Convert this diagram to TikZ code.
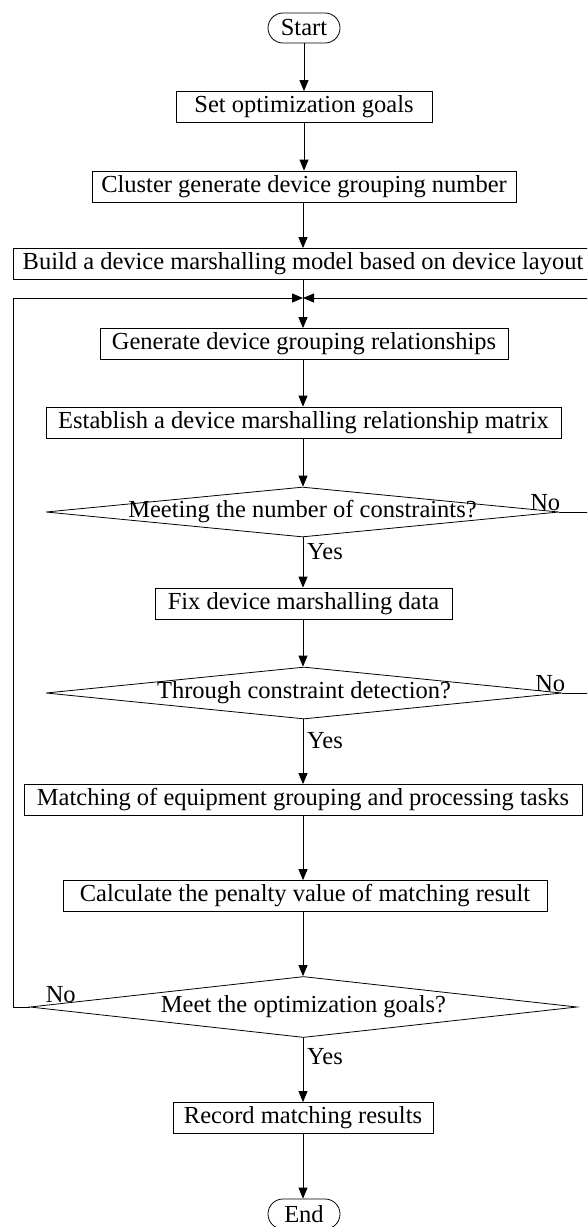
\documentclass[tikz,border=0pt]{standalone}
\usepackage{fontspec}
\setmainfont{Liberation Serif}
\usetikzlibrary{shapes.geometric,arrows.meta}

\tikzset{
	txt/.style = {font=\fontsize{24.5}{28}\selectfont},
	proc/.style = {txt, draw, rectangle, line width=0.8pt, inner xsep=6pt, minimum height=31pt},
	term/.style = {txt, draw, rectangle, line width=0.8pt, rounded corners=15pt, minimum width=72pt, minimum height=30pt},
	decision/.style = {draw, diamond, line width=0.8pt, inner sep=0pt},
	arr/.style = {line width=0.8pt, -{Triangle[length=11pt, width=9pt]}},
	line/.style = {line width=0.8pt},
	lbl/.style = {txt, inner sep=1pt}
}

\begin{document}
\begin{tikzpicture}[x = 1pt, y = -1pt]
	
		\useasboundingbox (0, 0) rectangle (587, 1227);
		\clip (0, 0) rectangle (587, 1227);
		
		\node[term] (start) at (304, 28) {Start};
		\node[proc, minimum width=256pt] (goals) at (304, 107) {Set optimization goals};
		\node[proc, minimum width=424pt] (cluster) at (304, 186.5) {Cluster generate device grouping number};
		\node[proc, minimum width=580pt] (build) at (303, 264) {Build a device marshalling model based on device layout};
		\node[proc, minimum width=408pt] (group) at (304, 344) {Generate device grouping relationships};
		\node[proc, minimum width=515pt] (matrix) at (303.5, 422.5) {Establish a device marshalling relationship matrix};
		\node[decision, minimum width=513pt, minimum height=50pt,
			label={[txt]center:Meeting the number of constraints?}] (num) at (302.5, 512) {};
		\node[proc, minimum width=297pt] (fix) at (303.5, 603.5) {Fix device marshalling data};
		\node[decision, minimum width=516pt, minimum height=52pt,
			label={[txt]center:Through constraint detection?}] (detect) at (304, 693) {};
		\node[proc, minimum width=558pt] (match) at (303, 800) {Matching of equipment grouping and processing tasks};
		\node[proc, minimum width=484pt] (penalty) at (305, 896) {Calculate the penalty value of matching result};
		\node[decision, minimum width=547pt, minimum height=61pt,
			label={[txt]center:Meet the optimization goals?}] (meet) at (303.5, 1007) {};
		\node[proc, minimum width=260pt] (record) at (303, 1118) {Record matching results};
		\node[term] (end) at (304, 1214) {End};
		
		\coordinate (merge) at (303, 298);
		\coordinate (left) at (13, 298);
		\coordinate (right) at (600, 298);
		
		\draw[arr] (start) -- (goals);
		\draw[arr] (goals) -- (cluster);
		\draw[arr] (cluster.south -| build) -- (build);
		\draw[arr] (build) -- (build |- group.north);
		\draw[arr] (group.south -| build) -- (build |- matrix.north);
		\draw[arr] (matrix.south -| build) -- (build |- num.north);
		\draw[arr] (num.south -| build) -- (build |- fix.north);
		\draw[arr] (fix.south -| build) -- (build |- detect.north);
		\draw[arr] (detect.south -| build) -- (build |- match.north);
		\draw[arr] (match.south -| build) -- (build |- penalty.north);
		\draw[arr] (penalty.south -| build) -- (build |- meet.north);
		\draw[arr] (meet.south -| build) -- (build |- record.north);
		\draw[arr] (record) -- (build |- end.north);
		
		\draw[line] (num.east) -- (num.east -| right) -- (right);
		\draw[line] (detect.east) -- (detect.east -| right) -- (right);
		\draw[arr] (right) -- (merge);
		\draw[line] (meet.west) -- (meet.west -| left) -- (left);
		\draw[arr] (left) -- (merge);
		
		\node[lbl, anchor=south east, xshift=2pt] at (num.east) {No};
		\node[lbl, anchor=south east, xshift=4pt] at (detect.east) {No};
		\node[lbl, anchor=south west, xshift=15pt, yshift=3pt] at (meet.west) {No};
		\node[lbl, anchor=north west, xshift=3pt, yshift=-5pt] at (num.south -| build) {Yes};
		\node[lbl, anchor=north west, xshift=3pt, yshift=-12pt] at (detect.south -| build) {Yes};
		\node[lbl, anchor=north west, xshift=3pt, yshift=-9pt] at (meet.south -| build) {Yes};
		
	\end{tikzpicture}
\end{document}
